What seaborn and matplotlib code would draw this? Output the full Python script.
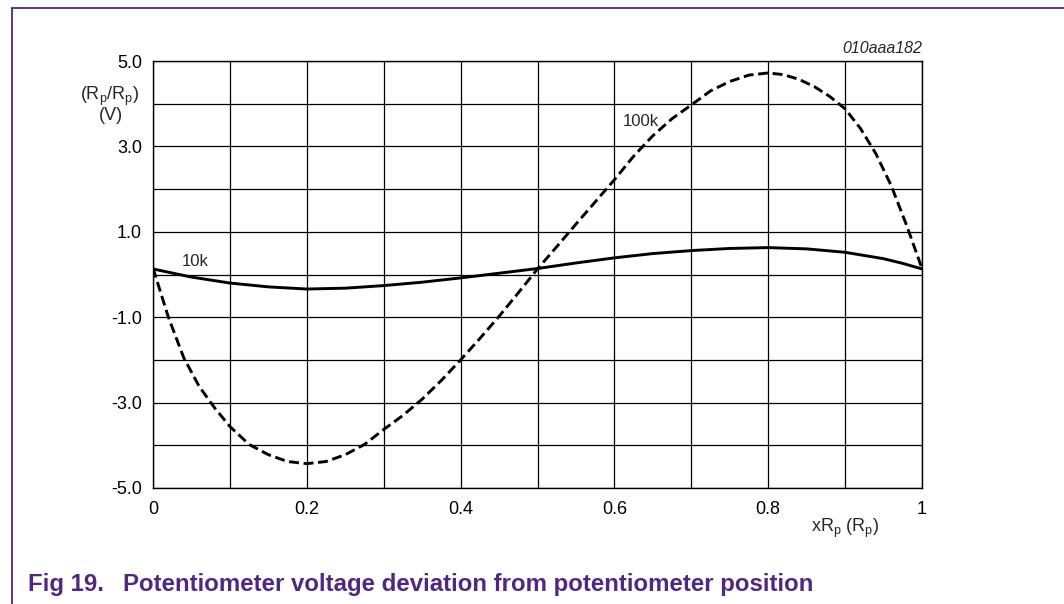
import numpy as np
import pandas as pd
import seaborn as sns
import matplotlib.pyplot as plt
from matplotlib.lines import Line2D
from matplotlib.ticker import MultipleLocator, FixedLocator

# wiper position (fraction of Rp) and voltage deviation
x_10k = [0.0, 0.05, 0.1, 0.15, 0.2, 0.25, 0.3, 0.35, 0.4, 0.45, 0.5,
         0.55, 0.6, 0.65, 0.7, 0.75, 0.8, 0.85, 0.9, 0.95, 0.975, 1.0]
v_10k = [0.13, -0.06, -0.2, -0.29, -0.34, -0.32, -0.26, -0.18, -0.08, 0.03, 0.14,
         0.27, 0.39, 0.49, 0.56, 0.61, 0.63, 0.6, 0.52, 0.37, 0.26, 0.13]

x_100k = [0.0, 0.02, 0.04, 0.06, 0.08, 0.1, 0.125, 0.15, 0.175, 0.2, 0.225,
          0.25, 0.275, 0.3, 0.325, 0.35, 0.375, 0.4, 0.425, 0.45, 0.475, 0.5,
          0.525, 0.55, 0.575, 0.6, 0.625, 0.65, 0.675, 0.7, 0.725, 0.75, 0.775,
          0.8, 0.82, 0.84, 0.86, 0.88, 0.9, 0.92, 0.94, 0.96, 0.98, 1.0]
v_100k = [0.15, -1.0, -1.95, -2.62, -3.12, -3.56, -3.98, -4.22, -4.38, -4.43, -4.38,
          -4.22, -3.98, -3.63, -3.3, -2.92, -2.48, -2.0, -1.5, -0.98, -0.43, 0.13,
          0.65, 1.18, 1.7, 2.22, 2.77, 3.25, 3.65, 3.97, 4.3, 4.52, 4.67,
          4.72, 4.68, 4.57, 4.4, 4.17, 3.88, 3.42, 2.83, 2.08, 1.15, 0.14]

x_ticks = [0, 0.2, 0.4, 0.6, 0.8, 1.0]
x_ticklabels = ["0", "0.2", "0.4", "0.6", "0.8", "1"]
y_ticks = [-5, -3, -1, 1, 3, 5]
y_ticklabels = ["-5.0", "-3.0", "-1.0", "1.0", "3.0", "5.0"]

purple = "#50287f"

df = pd.concat([
    pd.DataFrame({"x": x_10k, "v": v_10k, "series": "10k"}),
    pd.DataFrame({"x": x_100k, "v": v_100k, "series": "100k"}),
])

sns.set_style("white")
plt.rcParams["font.family"] = ["Liberation Sans", "DejaVu Sans"]
plt.rcParams["mathtext.default"] = "regular"

fig = plt.figure(figsize=(10.64, 6.04), dpi=100, facecolor="white")
ax = fig.add_axes([153 / 1064, 1 - 488 / 604, 769 / 1064, 427 / 604])

sns.lineplot(
    data=df, x="x", y="v", style="series",
    dashes={"10k": "", "100k": (3.4, 1.6)},
    color="black", linewidth=2.1, estimator=None, sort=False,
    legend=False, ax=ax, zorder=3,
)

ax.set_xlim(0, 1)
ax.set_ylim(-5, 5)
ax.xaxis.set_major_locator(FixedLocator(x_ticks))
ax.xaxis.set_minor_locator(MultipleLocator(0.1))
ax.yaxis.set_major_locator(FixedLocator(y_ticks))
ax.yaxis.set_minor_locator(MultipleLocator(1))
ax.set_xticklabels(x_ticklabels)
ax.set_yticklabels(y_ticklabels)
ax.tick_params(which="both", length=0, labelsize=13, colors="black")
ax.tick_params(axis="y", pad=8)
ax.tick_params(axis="x", pad=9)
ax.grid(which="both", color="black", linewidth=0.9)
for s in ax.spines.values():
    s.set_visible(True)
    s.set_color("black")
    s.set_linewidth(1.0)
ax.set_xlabel("")
ax.set_ylabel("")

ax.text(0.038, 0.3, "10k", fontsize=12, va="center", ha="left")
ax.text(0.611, 3.58, "100k", fontsize=12, va="center", ha="left")

fig.text(922 / 1064, 1 - 53 / 604, "010aaa182", fontsize=11.5, style="italic",
         ha="right", va="baseline")
fig.text(110 / 1064, 1 - 96 / 604, r"(R$_{p}$/R$_{p}$)", fontsize=13,
         ha="center", va="center")
fig.text(111 / 1064, 1 - 116 / 604, "(V)", fontsize=13, ha="center", va="center")
fig.text(845 / 1064, 1 - 528 / 604, r"xR$_{p}$ (R$_{p}$)", fontsize=13,
         ha="center", va="center")

fig.text(28 / 1064, 1 - 591 / 604, "Fig 19.", fontsize=17.3, fontweight="bold",
         color=purple, ha="left", va="baseline")
fig.text(123 / 1064, 1 - 591 / 604,
         "Potentiometer voltage deviation from potentiometer position",
         fontsize=17.3, fontweight="bold", color=purple, ha="left", va="baseline")

# purple frame at top and left
fig.add_artist(Line2D([12 / 1064, 1], [1 - 8 / 604, 1 - 8 / 604],
                      transform=fig.transFigure, color=purple, linewidth=1.3))
fig.add_artist(Line2D([12 / 1064, 12 / 1064], [0, 1 - 8 / 604],
                      transform=fig.transFigure, color=purple, linewidth=1.3))

plt.savefig("out.png", dpi=100, facecolor="white")
